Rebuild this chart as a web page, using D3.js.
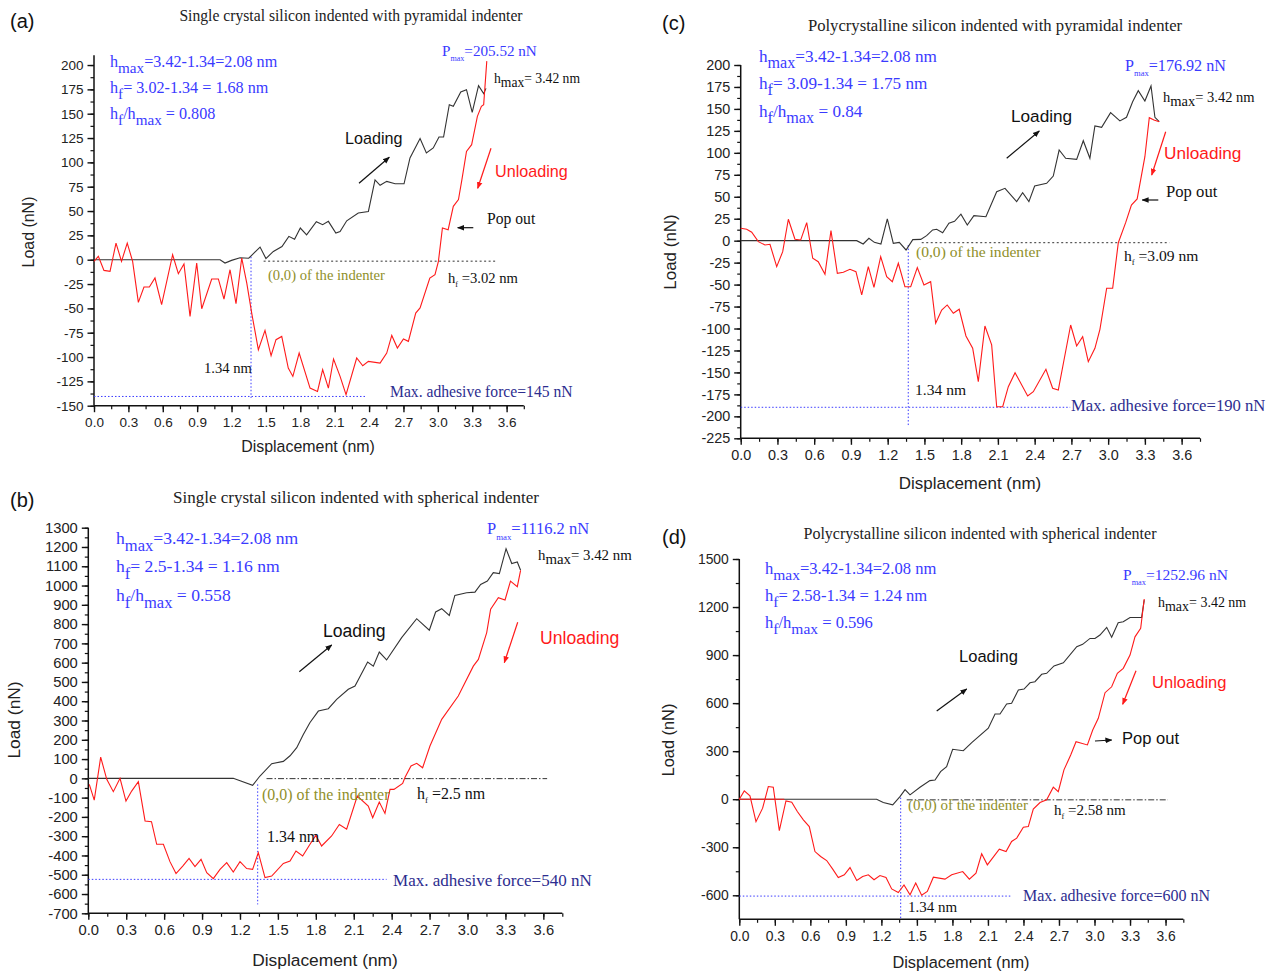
<!DOCTYPE html>
<html><head><meta charset="utf-8">
<script src="https://cdn.jsdelivr.net/npm/d3@7"></script>
<style>body{margin:0;background:#fff}svg{display:block}text{white-space:pre}</style>
</head><body>
<svg id="c" width="1275" height="974"></svg>
<script>
const SERIF='"Liberation Serif","Times New Roman",serif';
const SANS='"Liberation Sans",Arial,sans-serif';

// ---------- DATA ----------
const xTickLabels=["0.0","0.3","0.6","0.9","1.2","1.5","1.8","2.1","2.4","2.7","3.0","3.3","3.6"];
const aYTicks=[-150,-125,-100,-75,-50,-25,0,25,50,75,100,125,150,175,200];
const bYTicks=[-700,-600,-500,-400,-300,-200,-100,0,100,200,300,400,500,600,700,800,900,1000,1100,1200,1300];
const cYTicks=[-225,-200,-175,-150,-125,-100,-75,-50,-25,0,25,50,75,100,125,150,175,200];
const dYTicks=[-600,-300,0,300,600,900,1200,1500];

const aLoading=[[0,0],[1.10,0],[1.143,-3.4],[1.20,-0.7],[1.274,2],[1.35,1.5],[1.449,13],[1.50,1.2],[1.565,8.5],[1.64,13.5],[1.70,24],[1.75,21],[1.80,32.5],[1.855,25.5],[1.94,39],[1.995,36],[2.045,39.4],[2.11,27.4],[2.147,29],[2.205,40],[2.306,48],[2.394,49.6],[2.452,82],[2.496,76.4],[2.554,80.5],[2.627,78],[2.705,78],[2.757,104.5],[2.845,124.4],[2.90,109.7],[2.96,114.8],[3.01,126],[3.05,126],[3.10,159.3],[3.135,157.6],[3.20,172.3],[3.25,174.7],[3.30,151.4],[3.355,178.8],[3.40,170.6],[3.42,176]];
const aUnloading=[[3.427,204],[3.40,159.3],[3.38,157.6],[3.345,147.3],[3.295,118.2],[3.25,111.3],[3.21,82.2],[3.18,61.7],[3.135,54.8],[3.09,30.8],[3.04,32.6],[3.005,-1.7],[2.975,-15.4],[2.93,-18.8],[2.845,-49.6],[2.807,-54.8],[2.743,-83.9],[2.70,-81.5],[2.647,-90.8],[2.598,-77.8],[2.554,-95.9],[2.496,-106.2],[2.394,-104.5],[2.345,-109],[2.292,-101],[2.199,-138.7],[2.147,-119.9],[2.09,-102],[2.045,-131.9],[1.995,-113],[1.95,-135.3],[1.885,-131.9],[1.79,-95.9],[1.735,-119.9],[1.695,-111.3],[1.638,-78.8],[1.588,-82.2],[1.545,-98.7],[1.492,-72.6],[1.434,-92.5],[1.376,-54.8],[1.333,-24],[1.289,1.7],[1.239,-45.2],[1.187,-10.3],[1.134,-40.4],[1.085,-19.8],[1.027,-19.8],[0.94,-50.4],[0.896,-3.4],[0.838,-58.2],[0.785,-4.4],[0.736,-14.4],[0.686,5.1],[0.59,-46.2],[0.532,-18.8],[0.483,-28.1],[0.436,-28.1],[0.387,-43.9],[0.337,-1.7],[0.29,17.1],[0.24,-1.7],[0.192,17.1],[0.14,-12],[0.087,-11],[0.038,3.4],[0,-1.7]];

const bLoading=[[0,0],[1.147,0],[1.30,-36],[1.358,12],[1.451,76],[1.543,88],[1.596,117],[1.649,159],[1.70,226],[1.754,290],[1.82,349],[1.899,361],[1.965,410],[2.057,462],[2.11,479],[2.21,603],[2.255,582],[2.302,655],[2.36,614],[2.479,730],[2.598,828],[2.698,768],[2.748,863],[2.796,880],[2.856,845],[2.90,949],[2.993,963],[3.059,966],[3.104,1006],[3.157,1023],[3.204,1067],[3.252,1062],[3.305,1191],[3.35,1114],[3.394,1122],[3.42,1079]];
const bUnloading=[[3.42,1079],[3.394,994],[3.34,1023],[3.297,925],[3.244,937],[3.183,877],[3.152,756],[3.086,617],[3.046,582],[2.927,427],[2.796,306],[2.703,168],[2.645,55],[2.598,78],[2.553,64],[2.505,4],[2.487,-26],[2.418,-57],[2.387,-57],[2.347,-182],[2.302,-123],[2.25,-204],[2.215,-144],[2.128,-92],[2.044,-264],[1.986,-239],[1.925,-299],[1.846,-351],[1.80,-296],[1.754,-342],[1.696,-403],[1.643,-377],[1.596,-429],[1.543,-441],[1.451,-507],[1.398,-515],[1.345,-385],[1.30,-472],[1.253,-468],[1.20,-432],[1.147,-486],[1.095,-437],[1.042,-472],[0.989,-520],[0.937,-489],[0.892,-420],[0.844,-458],[0.797,-415],[0.747,-455],[0.694,-494],[0.646,-432],[0.594,-342],[0.541,-342],[0.50,-225],[0.449,-221],[0.396,-17],[0.343,-66],[0.298,-118],[0.251,0],[0.198,-69],[0.146,-5],[0.098,110],[0.047,-113],[0.008,-31]];

const cLoading=[[0,0],[0.947,0],[1.0,-3.8],[1.047,2.7],[1.091,-1.9],[1.145,-3.8],[1.197,24.7],[1.246,-3],[1.295,-1.9],[1.35,-10.6],[1.405,1.2],[1.47,1.5],[1.518,5.7],[1.567,12.2],[1.60,13],[1.649,9.1],[1.70,20],[1.746,22],[1.798,30.2],[1.85,17.9],[1.904,28.5],[2.002,27.3],[2.09,55.8],[2.158,59.6],[2.253,44.4],[2.302,54.6],[2.353,44.4],[2.40,62.3],[2.498,65.3],[2.552,73.6],[2.60,103.2],[2.653,93.8],[2.743,92.6],[2.797,113.8],[2.851,93.8],[2.892,130.6],[2.947,129],[3.02,145.7],[3.096,136.3],[3.15,140.5],[3.20,158.2],[3.246,170.8],[3.30,159],[3.35,176.1],[3.382,140.5],[3.417,135.5]];
const cUnloading=[[3.417,135.5],[3.374,137.4],[3.336,140],[3.30,95.6],[3.237,47.5],[3.19,40.6],[3.143,20.5],[3.083,-2.3],[3.037,-54.2],[2.988,-54.2],[2.933,-100.9],[2.892,-122.5],[2.838,-137.7],[2.792,-109.3],[2.743,-119.9],[2.694,-96],[2.593,-170],[2.547,-168],[2.492,-146.4],[2.389,-172],[2.343,-176.8],[2.24,-150.3],[2.185,-166.2],[2.139,-189],[2.09,-189],[2.049,-118.7],[1.994,-97.1],[1.94,-160.5],[1.894,-122.5],[1.839,-108.5],[1.784,-78.1],[1.736,-82.7],[1.686,-73.2],[1.641,-78.9],[1.592,-94],[1.551,-46.7],[1.496,-50.4],[1.442,-30.7],[1.388,-52.4],[1.341,-52.4],[1.287,-25.7],[1.238,-46.7],[1.192,-41],[1.143,-18.2],[1.088,-53.1],[1.042,-29.6],[0.988,-61.8],[0.941,-35.3],[0.892,-32.6],[0.838,-36],[0.789,-37.1],[0.737,11.4],[0.688,-38.2],[0.633,-23.9],[0.588,-20],[0.539,20.5],[0.49,0.8],[0.443,1.6],[0.389,24.4],[0.343,-12.5],[0.294,-29.6],[0.239,-4.1],[0.198,-4.9],[0.144,-1.1],[0.09,9.6],[0.049,13],[0,14.1]];

const dLoading=[[0,0],[1.16,0],[1.216,-21],[1.296,-35.6],[1.357,16],[1.40,60],[1.442,27],[1.526,75],[1.61,116],[1.653,120],[1.70,172],[1.751,203],[1.802,312],[1.892,303],[1.963,353],[2.103,443],[2.16,532],[2.202,532],[2.258,595],[2.30,599],[2.357,682],[2.405,688],[2.455,727],[2.497,734],[2.554,780],[2.596,786],[2.658,832],[2.737,852],[2.85,952],[2.90,967],[2.962,1004],[3.004,1004],[3.046,1025],[3.103,1073],[3.145,1011],[3.20,1102],[3.243,1108],[3.30,1135],[3.398,1135],[3.42,1243]];
const dUnloading=[[3.42,1250],[3.39,1067],[3.342,1014],[3.30,900],[3.243,817],[3.193,786],[3.145,702],[3.089,665],[3.032,505],[2.985,432],[2.94,339],[2.844,359],[2.799,276],[2.742,183],[2.694,47],[2.652,75],[2.596,-4],[2.54,-21],[2.483,-62],[2.441,-171],[2.399,-175],[2.343,-243],[2.30,-264],[2.253,-327],[2.196,-312],[2.095,-410],[2.047,-341],[1.999,-462],[1.943,-499],[1.887,-452],[1.794,-472],[1.737,-499],[1.639,-487],[1.588,-576],[1.54,-600],[1.49,-524],[1.442,-597],[1.391,-535],[1.343,-583],[1.287,-560],[1.239,-489],[1.188,-477],[1.138,-503],[1.09,-472],[1.042,-483],[0.992,-508],[0.935,-427],[0.887,-472],[0.836,-489],[0.789,-437],[0.738,-383],[0.687,-358],[0.639,-327],[0.591,-171],[0.541,-129],[0.49,-77],[0.443,-19],[0.394,-11],[0.338,-196],[0.287,75],[0.245,79],[0.197,-56],[0.141,-140],[0.09,21],[0.042,52],[0,0]];
const dRedBase=[[0,0],[0.38,0]];

// reference lines (data units)
const aRefs={zero:{x:[1.48,3.51],y:-1.5},vline:{x:1.37,y:[3,-142]},hline:{y:-140.5,x:[0,2.376]}};
const bRefs={zero:{x:[1.41,3.63],y:-1.5},vline:{x:1.34,y:[-31,-654]},hline:{y:-524,x:[0,2.36]}};
const cRefs={zero:{x:[1.478,3.50],y:-2.3},vline:{x:1.368,y:[-5,-212]},hline:{y:-189.7,x:[0,2.69]}};
const dRefs={zero:{x:[1.414,3.62],y:-4},vline:{x:1.363,y:[10,-745]},hline:{y:-605,x:[0,2.30]}};

// ---------- LAYOUT ----------
const panels=[
 {label:'(a)',title:'Single crystal silicon indented with pyramidal indenter',loading:aLoading,unloading:aUnloading,extraRed:null,yTicks:aYTicks,yMinor:12.5,yDomain:[-150,210],refs:aRefs,zeroDash:'2,2.5',s:1.01,
  box:{x0:94,x1:523.8,yTop:55.3,yBot:405.7},
  lab:[10,28],tit:[351,21],blue:[110,67,93,119],hf:'3.02-1.34 = 1.68',ratio:'0.808',pmax:[442,56,'205.52'],hmax:[494,83],
  loadT:[345,144],loadA:[359,183.3,389.3,157.3],unT:[495,177],unA:[491,148.3,477.7,188.3],
  pop:{t:[487,224],a:[473.3,227.7,457.7,227.7],sans:false},orig:[268,280],hfT:[448,283,'3.02'],nm:[204,373],mx:[390,397,'145'],
  yTitle:[28,232],xTitle:[308,452]},
 {label:'(b)',title:'Single crystal silicon indented with spherical indenter',loading:bLoading,unloading:bUnloading,extraRed:null,yTicks:bYTicks,yMinor:50,yDomain:[-700,1300],refs:bRefs,zeroDash:'6,2,1.5,2',s:1.1,
  box:{x0:88.3,x1:562.3,yTop:527.7,yBot:913.3},
  lab:[10,507],tit:[356,503],blue:[116,544,572,601],hf:'2.5-1.34 = 1.16',ratio:'0.558',pmax:[487,534,'1116.2'],hmax:[538,560],
  loadT:[323,637],loadA:[299.3,671.7,331.7,645],unT:[540,644],unA:[517.7,622.3,504.3,662.7],
  pop:null,orig:[262,800],hfT:[417,799,'2.5'],nm:[267,842],mx:[393,886,'540'],
  yTitle:[14,720],xTitle:[325,966]},
 {label:'(c)',title:'Polycrystalline silicon indented with pyramidal indenter',loading:cLoading,unloading:cUnloading,extraRed:null,yTicks:cYTicks,yMinor:12.5,yDomain:[-225,200],refs:cRefs,zeroDash:'2,2.5',s:1.075,
  box:{x0:740.7,x1:1200,yTop:65,yBot:438.3},
  lab:[662,30],tit:[995,31],blue:[759,62,89,117],hf:'3.09-1.34 = 1.75',ratio:'0.84',pmax:[1125,71,'176.92'],hmax:[1163,102],
  loadT:[1011,122],loadA:[1006.7,158.3,1039.3,131],unT:[1164,159],unA:[1165.7,131.7,1151.7,175],
  pop:{t:[1166,197],a:[1158.3,200,1142.3,200],sans:false},orig:[916,257],hfT:[1124,261,'3.09'],nm:[915,395],mx:[1071,411,'190'],
  yTitle:[670,252],xTitle:[970,489]},
 {label:'(d)',title:'Polycrystalline silicon indented with spherical indenter',loading:dLoading,unloading:dUnloading,extraRed:dRedBase,yTicks:dYTicks,yMinor:150,yDomain:[-750,1500],refs:dRefs,zeroDash:'6,2,1.5,2',s:1.035,
  box:{x0:739.3,x1:1183.3,yTop:559,yBot:919.3},
  lab:[662,544],tit:[980,539],blue:[765,574,601,628],hf:'2.58-1.34 = 1.24',ratio:'0.596',pmax:[1123,580,'1252.96'],hmax:[1158,607],
  loadT:[959,662],loadA:[936.7,711,966.7,689],unT:[1152,688],unA:[1136,670.7,1122.7,704.3],
  pop:{t:[1122,744],a:[1095,741,1111.7,740],sans:true},orig:[908,810],hfT:[1054,815,'2.58'],nm:[908,912],mx:[1023,901,'600'],
  yTitle:[668,740],xTitle:[961,968]}
];

const svg=d3.select('#c');
const defs=svg.append('defs');
[['ab','#111'],['ar','#ff1a1a']].forEach(([id,c])=>{
  defs.append('marker').attr('id',id).attr('viewBox','0 0 10 10').attr('refX',9).attr('refY',5)
   .attr('markerWidth',7).attr('markerHeight',7).attr('orient','auto').attr('markerUnits','userSpaceOnUse')
   .append('path').attr('d','M0,1 L10,5 L0,9 z').attr('fill',c);
});

function rich(sel,x,y,str,o){
  const t=sel.append('text').attr('x',x).attr('y',y).attr('font-family',o.family||SERIF)
    .attr('font-size',o.size).attr('fill',o.fill||'#111');
  const re=/_\{([^}]*)\}/g;let last=0,m;const parts=[];
  while((m=re.exec(str))){if(m.index>last)parts.push({t:str.slice(last,m.index)});parts.push({t:m[1],sub:true});last=re.lastIndex;}
  if(last<str.length)parts.push({t:str.slice(last)});
  let off=0;
  parts.forEach(p=>{const tg=p.sub?o.subDy:0;
    t.append('tspan').attr('dy',tg-off).attr('font-size',p.sub?o.subSize:o.size).text(p.t);off=tg;});
  return t;
}
function arrow(g,a,mk,col){
  g.append('line').attr('x1',a[0]).attr('y1',a[1]).attr('x2',a[2]).attr('y2',a[3])
   .attr('stroke',col).attr('stroke-width',1.2).attr('marker-end',`url(#${mk})`);
}

const xTicks=xTickLabels.map(Number);
const xMinor=d3.range(0,3.76,0.15).map(v=>+v.toFixed(2));
const BLUE='#3a3aff', NAVY='#2d2d8f', OLIVE='#8f8f2a', RED='#ff1a1a';

panels.forEach(p=>{
  const g=svg.append('g');
  const b=p.box, s=p.s;
  const x=d3.scaleLinear().domain([0,3.75]).range([b.x0,b.x1]);
  const y=d3.scaleLinear().domain(p.yDomain).range([b.yBot,b.yTop]);
  const yMinor=d3.range(p.yTicks[0],p.yDomain[1]+1e-6,p.yMinor);

  g.append('g').attr('transform',`translate(0,${b.yBot})`)
   .call(d3.axisBottom(x).tickValues(xMinor).tickSize(3.5).tickSizeOuter(0).tickFormat(''))
   .call(q=>{q.select('.domain').remove();q.selectAll('line').attr('stroke','#111').attr('stroke-width',1.2);});
  g.append('g').attr('transform',`translate(${b.x0},0)`)
   .call(d3.axisLeft(y).tickValues(yMinor).tickSize(3.5).tickSizeOuter(0).tickFormat(''))
   .call(q=>{q.select('.domain').remove();q.selectAll('line').attr('stroke','#111').attr('stroke-width',1.2);});
  const xa=g.append('g').attr('transform',`translate(0,${b.yBot})`)
   .call(d3.axisBottom(x).tickValues(xTicks).tickSize(6.5).tickSizeOuter(0).tickPadding(5).tickFormat((d,i)=>xTickLabels[i]));
  const ya=g.append('g').attr('transform',`translate(${b.x0},0)`)
   .call(d3.axisLeft(y).tickValues(p.yTicks).tickSize(6.5).tickSizeOuter(0).tickPadding(4).tickFormat(d=>String(d)));
  [xa,ya].forEach(a=>{
    a.select('.domain').attr('stroke','#111').attr('stroke-width',1.5);
    a.selectAll('.tick line').attr('stroke','#111').attr('stroke-width',1.4);
    a.selectAll('.tick text').attr('font-family',SANS).attr('font-size',13.4*s).attr('fill','#222');
  });
  xa.select('.domain').attr('d',`M${b.x0},0H${b.x1}`);
  ya.select('.domain').attr('d',`M0,${b.yBot}V${b.yTop}`);

  const r=p.refs;
  g.append('line').attr('x1',x(r.zero.x[0])).attr('x2',x(r.zero.x[1])).attr('y1',y(r.zero.y)).attr('y2',y(r.zero.y))
   .attr('stroke','#333').attr('stroke-width',1).attr('stroke-dasharray',p.zeroDash);
  g.append('line').attr('x1',x(r.vline.x)).attr('x2',x(r.vline.x)).attr('y1',y(r.vline.y[0])).attr('y2',y(r.vline.y[1]))
   .attr('stroke',BLUE).attr('stroke-width',1).attr('stroke-dasharray','1.5,2');
  g.append('line').attr('x1',x(r.hline.x[0])).attr('x2',x(r.hline.x[1])).attr('y1',y(r.hline.y)).attr('y2',y(r.hline.y))
   .attr('stroke',BLUE).attr('stroke-width',1).attr('stroke-dasharray','1.5,2');

  const line=d3.line().x(d=>x(d[0])).y(d=>y(d[1]));
  g.append('path').datum(p.loading).attr('d',line).attr('fill','none').attr('stroke','#333').attr('stroke-width',1.1);
  g.append('path').datum(p.unloading).attr('d',line).attr('fill','none').attr('stroke',RED).attr('stroke-width',1.1);
  if(p.extraRed) g.append('path').datum(p.extraRed).attr('d',line).attr('fill','none').attr('stroke',RED).attr('stroke-width',1.1);

  g.append('text').attr('transform',`translate(${p.yTitle[0]},${p.yTitle[1]}) rotate(-90)`).attr('text-anchor','middle')
   .attr('dy','0.35em').attr('font-family',SANS).attr('font-size',15.8*s).attr('fill','#222').text('Load (nN)');
  g.append('text').attr('x',p.xTitle[0]).attr('y',p.xTitle[1]).attr('text-anchor','middle')
   .attr('font-family',SANS).attr('font-size',15.8*s).attr('fill','#222').text('Displacement (nm)');

  g.append('text').attr('x',p.lab[0]).attr('y',p.lab[1]).attr('font-family',SANS).attr('font-size',20).attr('fill','#111').text(p.label);
  g.append('text').attr('x',p.tit[0]).attr('y',p.tit[1]).attr('text-anchor','middle').attr('font-family',SERIF).attr('font-size',15.5*s).attr('fill','#222').text(p.title);

  const bo={size:16*s,subSize:15*s,subDy:6*s,fill:BLUE};
  rich(g,p.blue[0],p.blue[1],'h_{max}=3.42-1.34=2.08 nm',bo);
  rich(g,p.blue[0],p.blue[2],'h_{f}= '+p.hf+' nm',bo);
  rich(g,p.blue[0],p.blue[3],'h_{f}/h_{max} = '+p.ratio,bo);
  rich(g,p.pmax[0],p.pmax[1],'P_{max}=' +p.pmax[2]+' nN',{size:15*s,subSize:8*s,subDy:5*s,fill:BLUE});
  rich(g,p.hmax[0],p.hmax[1],'h_{max}= 3.42 nm',{size:13.5*s,subSize:13.5*s,subDy:4*s,fill:'#111'});

  g.append('text').attr('x',p.loadT[0]).attr('y',p.loadT[1]).attr('font-family',SANS).attr('font-size',16*s).attr('fill','#111').text('Loading');
  arrow(g,p.loadA,'ab','#111');
  g.append('text').attr('x',p.unT[0]).attr('y',p.unT[1]).attr('font-family',SANS).attr('font-size',16*s).attr('fill',RED).text('Unloading');
  arrow(g,p.unA,'ar',RED);
  if(p.pop){
    g.append('text').attr('x',p.pop.t[0]).attr('y',p.pop.t[1]).attr('font-family',p.pop.sans?SANS:SERIF)
     .attr('font-size',(p.pop.sans?16:15.5)*s).attr('fill','#111').text('Pop out');
    arrow(g,p.pop.a,'ab','#111');
  }
  g.append('text').attr('x',p.orig[0]).attr('y',p.orig[1]).attr('font-family',SERIF).attr('font-size',14.5*s).attr('fill',OLIVE).text('(0,0) of the indenter');
  rich(g,p.hfT[0],p.hfT[1],'h_{f} ='+p.hfT[2]+' nm',{size:14.5*s,subSize:8*s,subDy:4*s,fill:'#111'});
  g.append('text').attr('x',p.nm[0]).attr('y',p.nm[1]).attr('font-family',SERIF).attr('font-size',14.5*s).attr('fill','#111').text('1.34 nm');
  g.append('text').attr('x',p.mx[0]).attr('y',p.mx[1]).attr('font-family',SERIF).attr('font-size',15.5*s).attr('fill',NAVY).text('Max. adhesive force='+p.mx[2]+' nN');
});
</script>
</body></html>
